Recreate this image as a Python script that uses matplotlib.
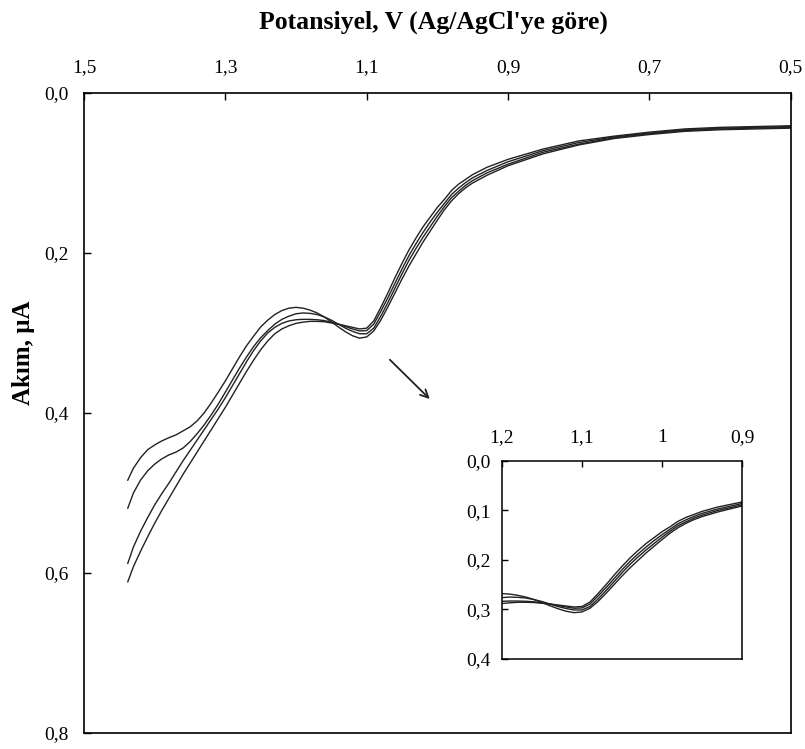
import matplotlib
matplotlib.use('Agg')
import matplotlib.pyplot as plt

plt.rcParams['font.family'] = ['Liberation Serif', 'DejaVu Serif']

# Potential (V vs Ag/AgCl) - common grid for all scans
potential = [1.438, 1.43, 1.42, 1.41, 1.40, 1.39, 1.38, 1.37, 1.36, 1.35, 1.34,
             1.33, 1.32, 1.31, 1.30, 1.29, 1.28, 1.27, 1.26, 1.25, 1.24, 1.23,
             1.22, 1.21, 1.20, 1.19, 1.18, 1.17, 1.16, 1.15, 1.14, 1.13, 1.12,
             1.11, 1.10, 1.09, 1.08, 1.07, 1.06, 1.05, 1.04, 1.03, 1.02, 1.01,
             1.00, 0.99, 0.98, 0.97, 0.96, 0.95, 0.93, 0.90, 0.85, 0.80, 0.75,
             0.70, 0.65, 0.60, 0.55, 0.50]

# Current (uA) for the four scans
scan_a = [0.484, 0.469, 0.456, 0.446, 0.440, 0.435, 0.431, 0.4275, 0.4225, 0.4175, 0.410,
          0.400, 0.3875, 0.374, 0.360, 0.345, 0.330, 0.316, 0.304, 0.2925, 0.284, 0.277,
          0.272, 0.269, 0.268, 0.269, 0.2715, 0.275, 0.280, 0.286, 0.2925, 0.2985, 0.3035,
          0.3065, 0.305, 0.2975, 0.284, 0.2675, 0.250, 0.2325, 0.216, 0.201, 0.186, 0.1725,
          0.159, 0.146, 0.135, 0.126, 0.1185, 0.1125, 0.103, 0.091, 0.076, 0.065, 0.057,
          0.052, 0.048, 0.046, 0.045, 0.044]
scan_b = [0.519, 0.500, 0.484, 0.4725, 0.464, 0.4575, 0.4525, 0.449, 0.444, 0.436, 0.426,
          0.415, 0.4025, 0.389, 0.374, 0.359, 0.344, 0.330, 0.317, 0.306, 0.297, 0.289,
          0.283, 0.279, 0.276, 0.275, 0.2755, 0.277, 0.280, 0.284, 0.289, 0.294, 0.298,
          0.301, 0.301, 0.294, 0.279, 0.262, 0.244, 0.226, 0.209, 0.194, 0.180, 0.167,
          0.154, 0.142, 0.131, 0.123, 0.1155, 0.1095, 0.100, 0.089, 0.074, 0.064, 0.056,
          0.051, 0.047, 0.045, 0.044, 0.043]
scan_c = [0.588, 0.5675, 0.548, 0.531, 0.515, 0.501, 0.488, 0.474, 0.460, 0.447, 0.434,
          0.421, 0.408, 0.395, 0.381, 0.366, 0.351, 0.336, 0.322, 0.310, 0.300, 0.293,
          0.288, 0.285, 0.2835, 0.283, 0.283, 0.2835, 0.2845, 0.2865, 0.289, 0.292, 0.295,
          0.2975, 0.297, 0.289, 0.273, 0.256, 0.238, 0.220, 0.203, 0.188, 0.174, 0.161,
          0.149, 0.138, 0.127, 0.119, 0.112, 0.106, 0.097, 0.086, 0.072, 0.062, 0.055,
          0.050, 0.046, 0.044, 0.043, 0.042]
scan_d = [0.611, 0.592, 0.573, 0.555, 0.538, 0.522, 0.507, 0.492, 0.477, 0.463, 0.449,
          0.435, 0.421, 0.407, 0.393, 0.378, 0.363, 0.348, 0.334, 0.321, 0.310, 0.301,
          0.295, 0.291, 0.288, 0.2865, 0.2855, 0.2855, 0.286, 0.2875, 0.289, 0.291, 0.293,
          0.295, 0.294, 0.285, 0.268, 0.250, 0.231, 0.213, 0.196, 0.181, 0.167, 0.155,
          0.143, 0.133, 0.122, 0.114, 0.108, 0.102, 0.093, 0.083, 0.070, 0.060, 0.054,
          0.049, 0.045, 0.043, 0.042, 0.041]
scans = [scan_a, scan_b, scan_c, scan_d]

main_xticks = [1.5, 1.3, 1.1, 0.9, 0.7, 0.5]
main_xlabels = ['1,5', '1,3', '1,1', '0,9', '0,7', '0,5']
main_yticks = [0.0, 0.2, 0.4, 0.6, 0.8]
main_ylabels = ['0,0', '0,2', '0,4', '0,6', '0,8']
inset_xticks = [1.2, 1.1, 1.0, 0.9]
inset_xlabels = ['1,2', '1,1', '1', '0,9']
inset_yticks = [0.0, 0.1, 0.2, 0.3, 0.4]
inset_ylabels = ['0,0', '0,1', '0,2', '0,3', '0,4']

fig = plt.figure(figsize=(8.05, 7.49), dpi=100)

# main axes
ax = fig.add_axes([0.1043, 0.0214, 0.878, 0.8545])
for s in scans:
    ax.plot(potential, s, color='#222222', lw=1.0)
ax.set_xlim(1.5, 0.5)
ax.set_ylim(0.8, 0.0)
ax.xaxis.tick_top()
ax.set_xticks(main_xticks)
ax.set_xticklabels(main_xlabels)
ax.set_yticks(main_yticks)
ax.set_yticklabels(main_ylabels)
ax.tick_params(direction='in', length=5, width=1.0, labelsize=14, colors='black')
ax.tick_params(axis='x', pad=12)
ax.tick_params(axis='y', pad=11)
for sp in ax.spines.values():
    sp.set_linewidth(1.2)

fig.text(0.539, 0.9706, "Potansiyel, V (Ag/AgCl'ye göre)", fontsize=18.5,
         fontweight='bold', ha='center', va='center')
fig.text(0.0286, 0.5287, 'Akım, μA', fontsize=18, fontweight='bold',
         rotation=90, ha='center', va='center')

ax.annotate('', xy=(1.008, 0.385), xytext=(1.07, 0.331),
            arrowprops=dict(arrowstyle='->', color='#222222', lw=1.3, mutation_scale=14))

# inset
axi = fig.add_axes([0.6236, 0.1202, 0.2981, 0.2644])
for s in scans:
    axi.plot(potential, s, color='#222222', lw=1.0)
axi.set_xlim(1.2, 0.9)
axi.set_ylim(0.4, 0.0)
axi.xaxis.tick_top()
axi.set_xticks(inset_xticks)
axi.set_xticklabels(inset_xlabels)
axi.set_yticks(inset_yticks)
axi.set_yticklabels(inset_ylabels)
axi.tick_params(direction='in', length=4, width=1.0, labelsize=14)
axi.tick_params(axis='x', pad=11)
axi.tick_params(axis='y', pad=8)
for sp in axi.spines.values():
    sp.set_linewidth(1.1)

fig.savefig('out.png', dpi=100)
